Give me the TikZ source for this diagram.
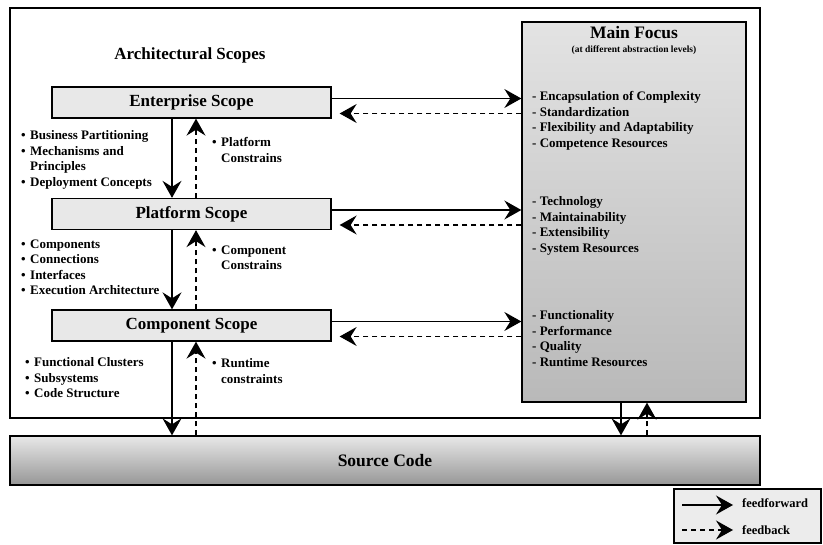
\documentclass[tikz,border=0pt]{standalone}
\usepackage{fontspec}
\setmainfont{Liberation Serif}
\usetikzlibrary{arrows.meta}

\newcommand{\scopeitem}{\makebox[9pt][l]{•}}
\newcommand{\scopegap}{\hspace*{9pt}}

\tikzset{
  scopebox/.style={draw, line width=1.3pt, fill=gray!18, minimum width=279pt, minimum height=31pt, inner sep=0pt, font=\bfseries\fontsize{17}{18}\selectfont},
  listtext/.style={anchor=north west, inner sep=0pt, align=left, font=\bfseries\fontsize{13}{15.5}\selectfont},
  feedfwd/.style={line width=1.3pt, -{Stealth[length=17pt,width=19pt,inset=6pt]}},
  feedbk/.style={feedfwd, dash pattern=on 5pt off 4pt},
}

\begin{document}
\begin{tikzpicture}[x=1pt, y=-1pt]
            \useasboundingbox (0,0) rectangle (823,545);
            \draw[line width=1.4pt] (10,8) rectangle (760,418);
            \node (title) at (190,55) {\bfseries\fontsize{17}{18}\selectfont Architectural Scopes};

            % main focus
            \node[draw, line width=1.3pt, top color=gray!22, bottom color=gray!55, minimum width=224pt, minimum height=380pt, inner sep=0pt] (focus) at (634,212) {};
            \node (ftitle) at (634,33) {\bfseries\fontsize{17.5}{18}\selectfont Main Focus};
            \node (fsub) at (634,50) {\bfseries\fontsize{9.5}{10}\selectfont (at different abstraction levels)};

            % scopes
            \node[scopebox] (ent) at (191.5,102.5) {Enterprise Scope};
            \node[scopebox] (plat) at (191.5,214) {Platform Scope};
            \node[scopebox] (comp) at (191.5,325.5) {Component Scope};

            \node[draw, line width=1.3pt, top color=gray!18, bottom color=gray!82, minimum width=750pt, minimum height=49pt, inner sep=0pt, font=\bfseries\fontsize{17.5}{18}\selectfont] (src) at (385,460.5) {Source Code};

            \coordinate (dn) at (172,0);
            \coordinate (up) at (196,0);
            \coordinate (fdn) at (621,0);
            \coordinate (fup) at (647,0);

            \draw[feedfwd] (ent.south -| dn) -- (plat.north -| dn);
            \draw[feedbk] (plat.north -| up) -- (ent.south -| up);
            \draw[feedfwd] (plat.south -| dn) -- (comp.north -| dn);
            \draw[feedbk] (comp.north -| up) -- (plat.south -| up);
            \draw[feedfwd] (comp.south -| dn) -- (src.north -| dn);
            \draw[feedbk] (src.north -| up) -- (comp.south -| up);
            \draw[feedfwd] (focus.south -| fdn) -- (src.north -| fdn);
            \draw[feedbk] (src.north -| fup) -- (focus.south -| fup);

            \foreach \s in {ent,plat,comp}{
              \draw[feedfwd] ([yshift=4pt]\s.east) -- ([yshift=4pt]\s.east -| focus.west);
              \draw[feedbk, shorten >=8pt] ([yshift=-11pt]\s.east -| focus.west) -- ([yshift=-11pt]\s.east);
            }

            % lists
            \node[listtext] (entl) at (21,130.5) {\scopeitem Business Partitioning\\ \scopeitem Mechanisms and\\ \scopegap Principles\\ \scopeitem Deployment Concepts};
            \node[listtext] (platl) at (21,239.5) {\scopeitem Components\\ \scopeitem Connections\\ \scopeitem Interfaces\\ \scopeitem Execution Architecture};
            \node[listtext] (compl) at (25,357.5) {\scopeitem Functional Clusters\\ \scopeitem Subsystems\\ \scopeitem Code Structure};
            \node[listtext] (entc) at (212,137.5) {\scopeitem Platform\\ \scopegap Constrains};
            \node[listtext] (platc) at (212,245.5) {\scopeitem Component\\ \scopegap Constrains};
            \node[listtext] (compc) at (212,358.5) {\scopeitem Runtime\\ \scopegap constraints};
            \node[listtext] (entf) at (532,91.5) {- Encapsulation of Complexity\\ - Standardization\\ - Flexibility and Adaptability\\ - Competence Resources};
            \node[listtext] (platf) at (532,196.5) {- Technology\\ - Maintainability\\ - Extensibility\\ - System Resources};
            \node[listtext] (compf) at (532,310.5) {- Functionality\\ - Performance\\ - Quality\\ - Runtime Resources};

            % legend
            \node[draw, line width=1.1pt, fill=gray!15, minimum width=147pt, minimum height=54pt, inner sep=0pt] (legend) at (747.5,516) {};
            \coordinate (lffa) at (682,505);
            \coordinate (lffb) at (733,505);
            \coordinate (lfba) at (682,530);
            \coordinate (lfbb) at (733,530);
            \draw[feedfwd] (lffa) -- (lffb);
            \draw[feedbk] (lfba) -- (lfbb);
            \node[anchor=west, inner sep=0pt, font=\bfseries\fontsize{12.5}{13}\selectfont] (lfft) at (742,503) {feedforward};
            \node[anchor=west, inner sep=0pt, font=\bfseries\fontsize{12.5}{13}\selectfont] (lfbt) at (742,530) {feedback};
        \end{tikzpicture}
\end{document}
